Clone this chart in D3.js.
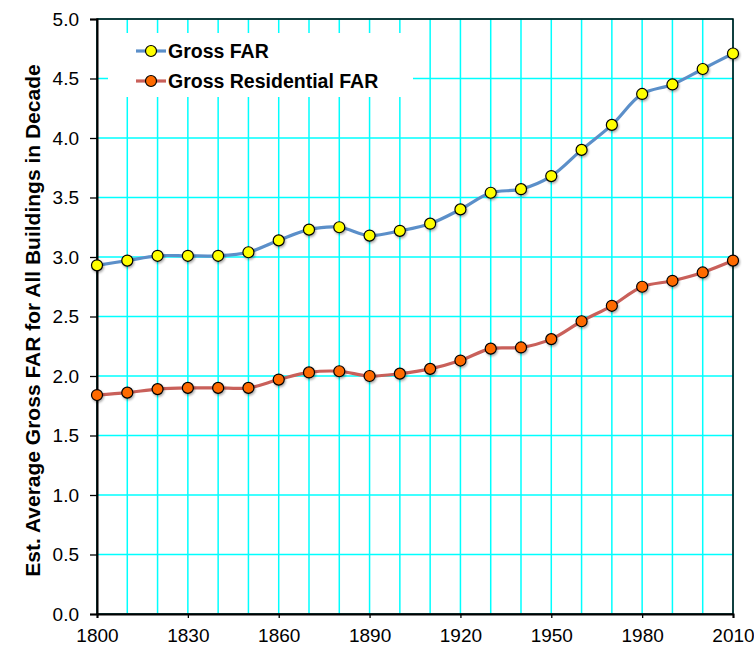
<!DOCTYPE html>
<html>
<head>
<meta charset="utf-8">
<script src="https://cdn.jsdelivr.net/npm/d3@7"></script>
<style>
  body { margin: 0; background: #fff; }
  svg { display: block; font-family: "Liberation Sans", Arial, sans-serif; }
</style>
</head>
<body>
<svg width="754" height="647"></svg>
<script>
// data
var decades = [1800, 1810, 1820, 1830, 1840, 1850, 1860, 1870, 1880, 1890, 1900,
               1910, 1920, 1930, 1940, 1950, 1960, 1970, 1980, 1990, 2000, 2010];
var grossFAR = [2.93, 2.97, 3.01, 3.01, 3.01, 3.04, 3.14, 3.23, 3.25, 3.18, 3.22,
                3.28, 3.40, 3.54, 3.57, 3.68, 3.90, 4.11, 4.37, 4.45, 4.58, 4.71];
var grossResFAR = [1.84, 1.86, 1.89, 1.90, 1.90, 1.90, 1.97, 2.03, 2.04, 2.00, 2.02,
                   2.06, 2.13, 2.23, 2.24, 2.31, 2.46, 2.59, 2.75, 2.80, 2.87, 2.97];
var xTickLabels = [1800, 1830, 1860, 1890, 1920, 1950, 1980, 2010];
var yTicks = [0, 0.5, 1, 1.5, 2, 2.5, 3, 3.5, 4, 4.5, 5];

var svg = d3.select("svg");
var margin = { top: 19, right: 21, bottom: 33, left: 97 };
var width = 754 - margin.left - margin.right,
    height = 647 - margin.top - margin.bottom;

var g = svg.append("g")
  .attr("transform", "translate(" + margin.left + "," + margin.top + ")");

var x = d3.scaleLinear().domain([1800, 2010]).range([0, width]);
var y = d3.scaleLinear().domain([0, 5]).range([height, 0]);

// drop shadow for markers
var defs = svg.append("defs");
var f = defs.append("filter").attr("id", "shadow")
  .attr("x", "-50%").attr("y", "-50%").attr("width", "200%").attr("height", "200%");
f.append("feDropShadow").attr("dx", 1).attr("dy", 1.5).attr("stdDeviation", 1)
  .attr("flood-color", "#000").attr("flood-opacity", 0.35);

// grid
g.append("g").selectAll("line")
  .data(decades)
  .enter().append("line")
    .attr("x1", function(d) { return x(d); })
    .attr("x2", function(d) { return x(d); })
    .attr("y1", 0).attr("y2", height)
    .style("stroke", "#00ffff").style("stroke-width", 1.5);

g.append("g").selectAll("line")
  .data(yTicks)
  .enter().append("line")
    .attr("x1", 0).attr("x2", width)
    .attr("y1", function(d) { return y(d); })
    .attr("y2", function(d) { return y(d); })
    .style("stroke", "#00ffff").style("stroke-width", 1.5);

// frame
g.append("rect")
  .attr("width", width).attr("height", height)
  .style("fill", "none").style("stroke", "#000").style("stroke-width", 1.5);

// axes
var yAxis = g.append("g")
  .call(d3.axisLeft(y).tickValues(yTicks).tickFormat(d3.format(".1f")).tickSize(7).tickPadding(11));
yAxis.select(".domain").style("stroke-width", 2);
yAxis.selectAll("line").style("stroke-width", 1.3);
yAxis.selectAll("text").style("font-size", "19px").style("fill", "#000");

var xAxis = g.append("g")
  .attr("transform", "translate(0," + height + ")")
  .call(d3.axisBottom(x).tickValues(xTickLabels).tickFormat(d3.format("d")).tickSize(4).tickPadding(11));
xAxis.select(".domain").style("stroke-width", 2);
xAxis.selectAll("line").style("stroke-width", 1.3);
xAxis.selectAll("text").style("font-size", "19px").style("fill", "#000");

// y title
svg.append("text")
  .attr("transform", "translate(40," + (margin.top + height / 2 + 4) + ") rotate(-90)")
  .attr("text-anchor", "middle")
  .style("font-size", "21px").style("font-weight", "bold")
  .text("Est. Average Gross FAR for All Buildings in Decade");

var line = d3.line()
  .x(function(d, i) { return x(decades[i]); })
  .y(function(d) { return y(d); })
  .curve(d3.curveCatmullRom.alpha(0.5));

var series = [
  { name: "Gross FAR", values: grossFAR, line: "#5b8fc9", fill: "#ffff00" },
  { name: "Gross Residential FAR", values: grossResFAR, line: "#c9605a", fill: "#ff6a00" }
];

series.forEach(function(s) {
  g.append("path")
    .datum(s.values)
    .attr("d", line)
    .style("fill", "none").style("stroke", s.line).style("stroke-width", 3.2);
  g.append("g").selectAll("circle")
    .data(s.values)
    .enter().append("circle")
      .attr("cx", function(d, i) { return x(decades[i]); })
      .attr("cy", function(d) { return y(d); })
      .attr("r", 5.5)
      .attr("filter", "url(#shadow)")
      .style("fill", s.fill).style("stroke", "#000").style("stroke-width", 1.2);
});

// legend
var legend = svg.append("g");
legend.append("rect")
  .attr("x", 108).attr("y", 33).attr("width", 305).attr("height", 64)
  .style("fill", "#fff");
series.forEach(function(s, i) {
  var ly = 51 + i * 30;
  legend.append("line")
    .attr("x1", 136).attr("x2", 166).attr("y1", ly).attr("y2", ly)
    .style("stroke", s.line).style("stroke-width", 3.2);
  legend.append("circle")
    .attr("cx", 151).attr("cy", ly).attr("r", 5.5)
    .style("fill", s.fill).style("stroke", "#000").style("stroke-width", 1.2);
  legend.append("text")
    .attr("x", 168).attr("y", ly + 7)
    .style("font-size", "19.5px").style("font-weight", "bold")
    .text(s.name);
});
</script>
</body>
</html>
